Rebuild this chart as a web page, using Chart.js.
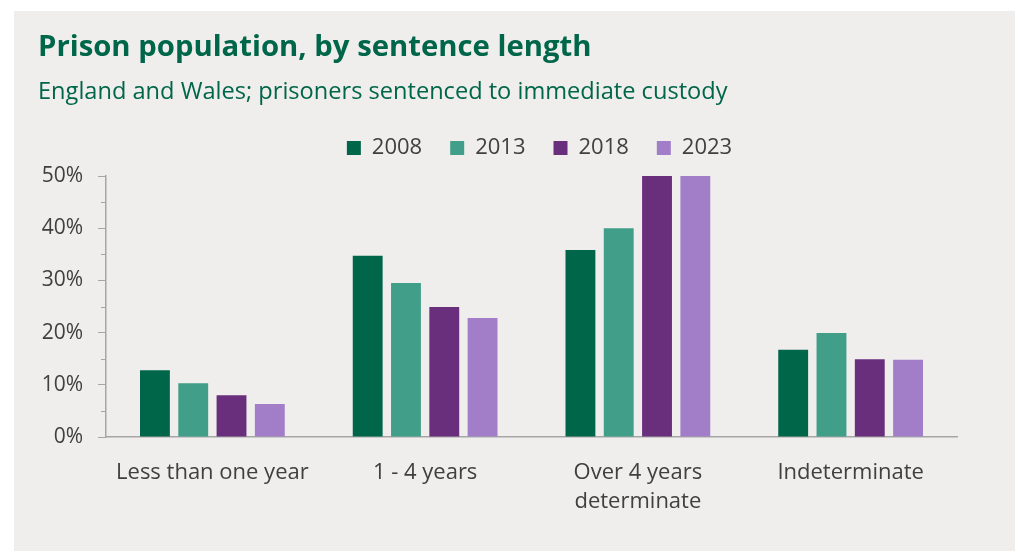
<!DOCTYPE html>
<html>
<head>
<meta charset="utf-8">
<script src="https://cdn.jsdelivr.net/npm/chart.js@4"></script>
<style>
  html, body { margin: 0; padding: 0; background: #ffffff; }
  #box { position: absolute; left: 14px; top: 11px; width: 1001px; height: 540px; background: #efeeec; }
  #title { position: absolute; left: 24px; top: 14px; font: bold 29.3px "Open Sans", sans-serif; color: #00664a; white-space: nowrap; }
  #subtitle { position: absolute; left: 24px; top: 63px; font: 23.6px "Open Sans", sans-serif; color: #00664a; white-space: nowrap; }
  #wrap { position: absolute; left: 0; top: 0; width: 1001px; height: 540px; }
</style>
</head>
<body>
<div id="box">
  <div id="wrap"><canvas id="chart"></canvas></div>
  <div id="title">Prison population, by sentence length</div>
  <div id="subtitle">England and Wales; prisoners sentenced to immediate custody</div>
</div>
<script>
const categories = ['Less than one year', '1 - 4 years', ['Over 4 years', 'determinate'], 'Indeterminate'];
const years = ['2008', '2013', '2018', '2023'];
const values2008 = [12.8, 34.7, 35.8, 16.7];
const values2013 = [10.3, 29.5, 40.0, 19.9];
const values2018 = [8.0, 24.9, 50.0, 14.9];
const values2023 = [6.3, 22.8, 50.0, 14.8];
const colors = ['#00664a', '#419e89', '#692e7c', '#a27ec9'];
const yTicks = [0, 10, 20, 30, 40, 50];
const yMinorTicks = [5, 15, 25, 35, 45];

const axisGrey = '#a6a6a6';
const textGrey = '#404040';

// short minor ticks between the labelled ones
const minorTicks = {
  id: 'minorTicks',
  afterDraw(chart) {
    const y = chart.scales.y;
    const ctx = chart.ctx;
    ctx.save();
    ctx.strokeStyle = axisGrey;
    ctx.lineWidth = 1;
    yMinorTicks.forEach(v => {
      const py = Math.round(y.getPixelForValue(v)) + 0.5;
      ctx.beginPath();
      ctx.moveTo(y.right - 5, py);
      ctx.lineTo(y.right, py);
      ctx.stroke();
    });
    ctx.restore();
  }
};

// nudge the legend: a bit more room under it and a small shift right
const legendTweak = {
  id: 'legendTweak',
  beforeLayout(chart) {
    const lg = chart.legend;
    if (!lg || lg._tweaked) return;
    lg._tweaked = true;
    const fit = lg.fit;
    lg.fit = function() { fit.call(this); this.height += 7; };
    const draw = lg.draw;
    lg.draw = function() {
      const ctx = this.ctx;
      ctx.save();
      ctx.translate(8, 0);
      draw.call(this);
      ctx.restore();
    };
  }
};

const series = [values2008, values2013, values2018, values2023];

new Chart(document.getElementById('chart'), {
  type: 'bar',
  data: {
    labels: categories,
    datasets: years.map((yr, i) => ({
      label: yr,
      data: series[i],
      backgroundColor: colors[i],
      categoryPercentage: 0.72,
      barPercentage: 0.78
    }))
  },
  options: {
    responsive: true,
    maintainAspectRatio: false,
    animation: false,
    layout: { padding: { left: 0, right: 58, top: 98, bottom: 0 } },
    plugins: {
      legend: {
        position: 'top',
        fullSize: false,
        labels: {
          boxWidth: 14, boxHeight: 14, padding: 28,
          color: textGrey,
          font: { family: 'Open Sans', size: 22 }
        }
      },
      tooltip: { enabled: false }
    },
    scales: {
      x: {
        grid: { display: false, drawTicks: false },
        border: { display: true, color: axisGrey, width: 1.5 },
        ticks: {
          color: textGrey, padding: 21,
          font: { family: 'Open Sans', size: 22, lineHeight: 1.32 },
          maxRotation: 0
        },
        afterFit(scale) { scale.height = 114; }
      },
      y: {
        min: 0, max: 50,
        afterBuildTicks(scale) { scale.ticks = yTicks.map(v => ({ value: v })); },
        grid: { drawOnChartArea: false, drawTicks: true, tickLength: 8, color: axisGrey },
        border: { display: true, color: axisGrey, width: 1.5 },
        ticks: {
          color: textGrey, padding: 15,
          font: { family: 'Open Sans', size: 21 },
          callback: v => v + '%'
        },
        afterFit(scale) { scale.width = 92; }
      }
    }
  },
  plugins: [minorTicks, legendTweak]
});
</script>
</body>
</html>
